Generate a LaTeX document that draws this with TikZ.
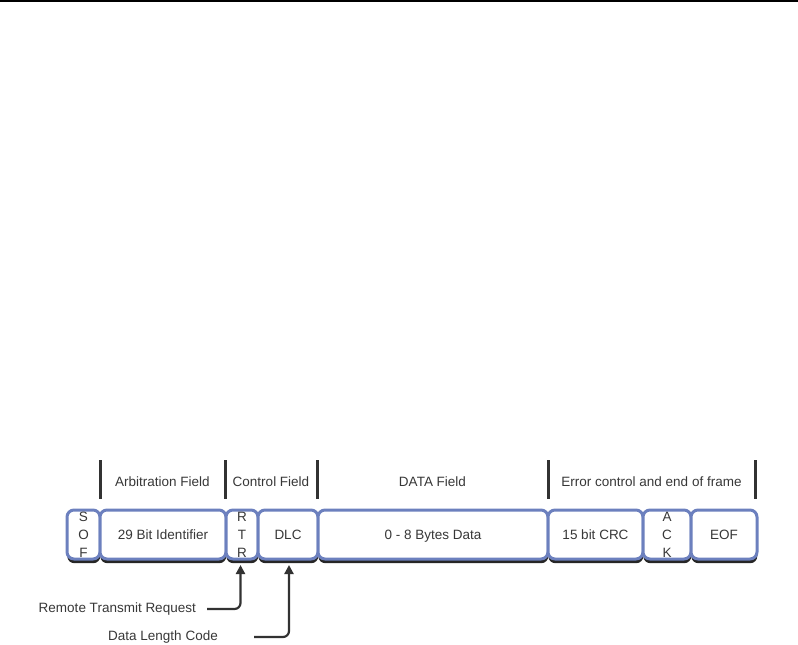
\documentclass[tikz,border=0pt]{standalone}
\usepackage{fontspec}
\setmainfont{Liberation Sans}
\usetikzlibrary{arrows.meta,shadows}
\definecolor{boxblue}{RGB}{108,128,190}
\definecolor{txtgray}{RGB}{55,55,55}
\definecolor{bargray}{RGB}{50,50,50}
\begin{document}
\begin{tikzpicture}[x=1pt,y=-1pt,
  every node/.style={font=\fontsize{13.5}{18}\selectfont, text=txtgray},
  fieldbox/.style={draw=boxblue, line width=3pt, rounded corners=7pt, fill=white,
    minimum height=49pt, inner sep=0pt, outer sep=0pt,
    drop shadow={shadow xshift=0.3pt, shadow yshift=-4.2pt, fill=black!85, opacity=1}},
  oneline/.style={text height=9.7pt, text depth=0pt},
  sepbar/.style={draw=bargray, line width=3pt},
  hdr/.style={anchor=base},
  conn/.style={draw=bargray, line width=2.2pt, rounded corners=6pt, -{Triangle[width=9pt,length=9pt]}},
  note/.style={anchor=base east, inner sep=0pt}
]
\useasboundingbox (0,0) rectangle (798,645);
\draw[line width=1.5pt, black] (0,1) -- (798,1);

% separators
\foreach \x in {100,225,317,548,755}
  \draw[sepbar] (\x,460) -- (\x,499);

% header labels
\node[hdr] (hArb) at (162.5,486) {Arbitration Field};
\node[hdr] (hCtl) at (271,486) {Control Field};
\node[hdr] (hData) at (432.5,486) {DATA Field};
\node[hdr] (hErr) at (651.5,486) {Error control and end of frame};

% boxes (centre x, width)
\node[fieldbox, minimum width=33pt, align=center] (sof) at (83.5,534.5) {S\\O\\F};
\node[fieldbox, oneline, minimum width=126pt] (id) at (163,534.5) {29 Bit Identifier};
\node[fieldbox, minimum width=32pt, align=center] (rtr) at (242,534.5) {R\\T\\R};
\node[fieldbox, oneline, minimum width=60pt] (dlc) at (288,534.5) {DLC};
\node[fieldbox, oneline, minimum width=230pt] (data) at (433,534.5) {0 - 8 Bytes Data};
\node[fieldbox, oneline, minimum width=95pt] (crc) at (595.5,534.5) {15 bit CRC};
\node[fieldbox, minimum width=48pt, align=center] (ack) at (667,534.5) {A\\C\\K};
\node[fieldbox, oneline, minimum width=66pt] (eof) at (724,534.5) {EOF};

% notes
\node[note] (rtrnote) at (196,612) {Remote Transmit Request};
\node[note] (dlcnote) at (218,640) {Data Length Code};

\coordinate (rtrstart) at (207,609);
\coordinate (dlcstart) at (254,637);
\draw[conn] (rtrstart) -| ([xshift=-1.5pt,yshift=-6pt]rtr.south);
\draw[conn] (dlcstart) -| ([xshift=1pt,yshift=-6pt]dlc.south);
\end{tikzpicture}
\end{document}
